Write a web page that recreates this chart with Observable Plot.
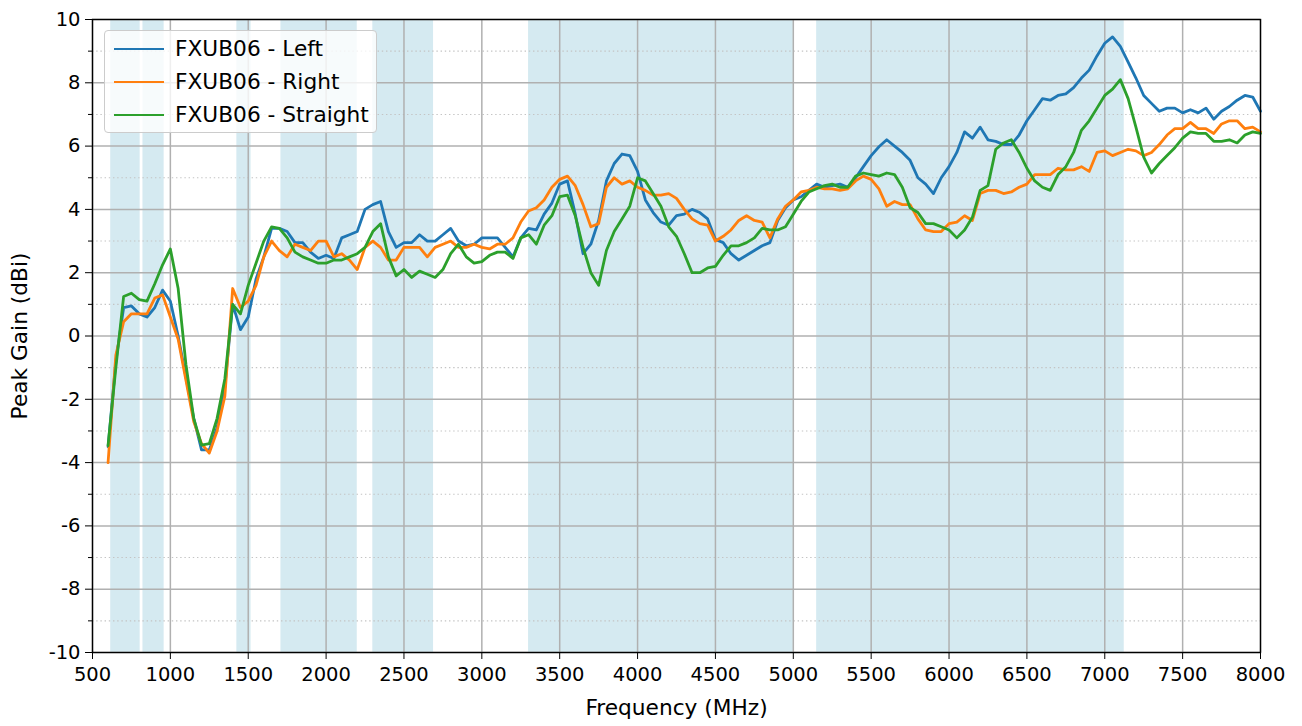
<!DOCTYPE html>
<html><head><meta charset="utf-8">
<script src="https://cdn.jsdelivr.net/npm/d3@7"></script>
<script src="https://cdn.jsdelivr.net/npm/@observablehq/plot@0.6"></script>
<style>
body{margin:0;background:#fff;font-family:"DejaVu Sans",sans-serif;}
#wrap{position:relative;width:1302px;height:726px;}
#legend{position:absolute;left:104px;top:30px;width:273px;height:103px;border:1px solid #cccccc;border-radius:4px;background:rgba(255,255,255,0.8);font-size:21.7px;color:#000;box-sizing:border-box;}
.sw{position:absolute;left:9px;width:50px;height:2.8px;}
.lab{position:absolute;left:70px;white-space:nowrap;line-height:26px;}
</style></head>
<body>
<div id="wrap"><div id="chart"></div><div id="legend"></div></div>
<script>
const seriesNames = ["FXUB06 - Left", "FXUB06 - Right", "FXUB06 - Straight"];
const seriesColors = ["#1f77b4", "#ff7f0e", "#2ca02c"];
const freqs = d3.range(600, 8001, 50);
const left = [
 -3.5,-0.8,0.9,0.95,0.7,0.6,0.9,1.45,1.1,0.0,
 -1.3,-2.6,-3.6,-3.6,-2.9,-1.6,1.0,0.2,0.6,1.8,
 2.5,3.4,3.4,3.3,2.95,2.95,2.65,2.45,2.55,2.45,
 3.1,3.2,3.3,4.0,4.15,4.25,3.3,2.8,2.95,2.95,
 3.2,3.0,3.0,3.2,3.4,3.0,2.85,2.9,3.1,3.1,
 3.1,2.8,2.5,3.1,3.4,3.35,3.85,4.2,4.8,4.9,
 3.85,2.6,2.9,3.65,4.9,5.45,5.75,5.7,5.2,4.3,
 3.9,3.6,3.5,3.8,3.85,4.0,3.9,3.7,3.05,2.95,
 2.6,2.4,2.55,2.7,2.85,2.95,3.65,4.05,4.3,4.4,
 4.6,4.8,4.7,4.75,4.8,4.7,5.0,5.35,5.7,5.98,
 6.2,6.0,5.8,5.55,5.0,4.8,4.5,5.0,5.35,5.8,
 6.45,6.25,6.6,6.2,6.15,6.05,6.05,6.35,6.8,7.15,
 7.5,7.45,7.6,7.65,7.85,8.15,8.4,8.85,9.25,9.45,
 9.15,8.65,8.15,7.6,7.35,7.1,7.2,7.2,7.05,7.15,
 7.05,7.2,6.85,7.1,7.25,7.45,7.6,7.55,7.1
];
const right = [
 -4.0,-0.6,0.45,0.7,0.7,0.7,1.2,1.3,0.6,-0.1,
 -1.4,-2.7,-3.4,-3.7,-3.0,-1.9,1.5,0.9,1.1,1.6,
 2.5,3.0,2.7,2.5,2.9,2.8,2.7,3.0,3.0,2.5,
 2.6,2.4,2.1,2.8,3.0,2.8,2.4,2.4,2.8,2.8,
 2.8,2.5,2.8,2.9,3.0,2.8,2.8,2.9,2.8,2.75,
 2.9,2.9,3.1,3.6,3.95,4.05,4.3,4.7,4.95,5.05,
 4.75,4.15,3.45,3.55,4.7,5.0,4.8,4.9,4.7,4.6,
 4.45,4.45,4.5,4.35,4.0,3.7,3.55,3.5,3.0,3.15,
 3.35,3.65,3.8,3.65,3.6,3.1,3.7,4.1,4.3,4.55,
 4.6,4.7,4.65,4.65,4.6,4.65,4.9,5.05,4.95,4.65,
 4.1,4.25,4.15,4.15,3.7,3.35,3.3,3.3,3.55,3.6,
 3.8,3.65,4.5,4.6,4.6,4.5,4.55,4.7,4.8,5.1,
 5.1,5.1,5.3,5.25,5.25,5.35,5.2,5.8,5.85,5.7,
 5.8,5.9,5.85,5.7,5.8,6.05,6.35,6.55,6.55,6.75,
 6.55,6.55,6.4,6.7,6.8,6.8,6.55,6.6,6.45
];
const straight = [
 -3.46,-1.0,1.25,1.35,1.15,1.1,1.65,2.25,2.75,1.5,
 -0.9,-2.6,-3.45,-3.4,-2.6,-1.35,1.0,0.7,1.6,2.3,
 3.0,3.45,3.4,3.1,2.65,2.5,2.4,2.3,2.3,2.4,
 2.4,2.5,2.6,2.8,3.3,3.55,2.5,1.9,2.1,1.85,
 2.05,1.95,1.85,2.1,2.6,2.9,2.5,2.3,2.35,2.55,
 2.65,2.65,2.45,3.1,3.2,2.9,3.5,3.8,4.4,4.45,
 3.8,2.8,2.0,1.6,2.7,3.3,3.7,4.1,5.0,4.9,
 4.5,4.1,3.45,3.15,2.6,2.0,2.0,2.15,2.2,2.55,
 2.85,2.85,2.95,3.1,3.4,3.35,3.35,3.45,3.85,4.25,
 4.55,4.65,4.75,4.8,4.7,4.7,5.05,5.15,5.1,5.05,
 5.15,5.1,4.7,4.05,3.9,3.55,3.55,3.45,3.35,3.1,
 3.35,3.75,4.6,4.75,5.9,6.1,6.2,5.8,5.3,4.9,
 4.7,4.6,5.1,5.35,5.8,6.5,6.8,7.2,7.6,7.8,
 8.1,7.5,6.6,5.65,5.15,5.45,5.7,5.95,6.25,6.45,
 6.4,6.4,6.15,6.15,6.2,6.1,6.35,6.45,6.4
];
const bandStart = [617, 824, 1427, 1710, 2300, 3300, 5150];
const bandEnd   = [806, 960, 1518, 2200, 2690, 5000, 7125];
const xTicks = [500,1000,1500,2000,2500,3000,3500,4000,4500,5000,5500,6000,6500,7000,7500,8000];
const yTicks = [-10,-8,-6,-4,-2,0,2,4,6,8,10];
const yMinor = [-9,-7,-5,-3,-1,1,3,5,7,9];

const seriesValues = [left, right, straight];
const rows = [];
seriesValues.forEach((vals, i) => vals.forEach((v, j) => rows.push({f: freqs[j], v, s: seriesNames[i]})));
const bands = bandStart.map((s, i) => ({start: s, end: bandEnd[i]}));

const chart = Plot.plot({
  width: 1302, height: 726,
  marginLeft: 92, marginRight: 42, marginTop: 19, marginBottom: 74,
  x: {domain: [500, 8000]},
  y: {domain: [-10, 10]},
  color: {domain: seriesNames, range: seriesColors},
  style: {fontFamily: "DejaVu Sans", fontSize: "19.5px", background: "white", color: "black", overflow: "visible"},
  marks: [
    Plot.rect(bands, {x1: "start", x2: "end", fill: "#d5eaf1"}),
    Plot.gridY(yMinor, {stroke: "#c4c4c4", strokeOpacity: 1, strokeWidth: 1.1, strokeDasharray: "1.4,2.8"}),
    Plot.gridX(xTicks, {stroke: "#b0b0b0", strokeOpacity: 1, strokeWidth: 1.5}),
    Plot.gridY(yTicks, {stroke: "#b0b0b0", strokeOpacity: 1, strokeWidth: 1.5}),
    Plot.line(rows, {x: "f", y: "v", z: "s", stroke: "s", strokeWidth: 2.8, strokeLinejoin: "round"}),
    Plot.frame({stroke: "black", strokeWidth: 1.4}),
    Plot.axisX({ticks: xTicks, tickSize: 7, tickPadding: 8, tickFormat: d => String(d), label: null}),
    Plot.axisX({ticks: [], label: "Frequency (MHz)", labelAnchor: "center", labelArrow: "none", labelOffset: 62, fontSize: "21.7px"}),
    Plot.axisY({ticks: yTicks, tickSize: 7, tickPadding: 5, tickFormat: d => String(d), label: null}),
    Plot.axisY({ticks: [], label: "Peak Gain (dBi)", labelAnchor: "center", labelArrow: "none", labelOffset: 81, fontSize: "21.7px"}),
    Plot.axisY({ticks: yMinor, tickSize: 4, tickFormat: () => "", label: null})
  ]
});
document.getElementById("chart").appendChild(chart);

const legend = document.getElementById("legend");
seriesNames.forEach((name, i) => {
  const cy = 18 + i * 33;
  const sw = document.createElement("div");
  sw.className = "sw";
  sw.style.top = (cy - 1.4) + "px";
  sw.style.background = seriesColors[i];
  legend.appendChild(sw);
  const lab = document.createElement("div");
  lab.className = "lab";
  lab.style.top = (cy - 13) + "px";
  lab.textContent = name;
  legend.appendChild(lab);
});
</script>
</body></html>
